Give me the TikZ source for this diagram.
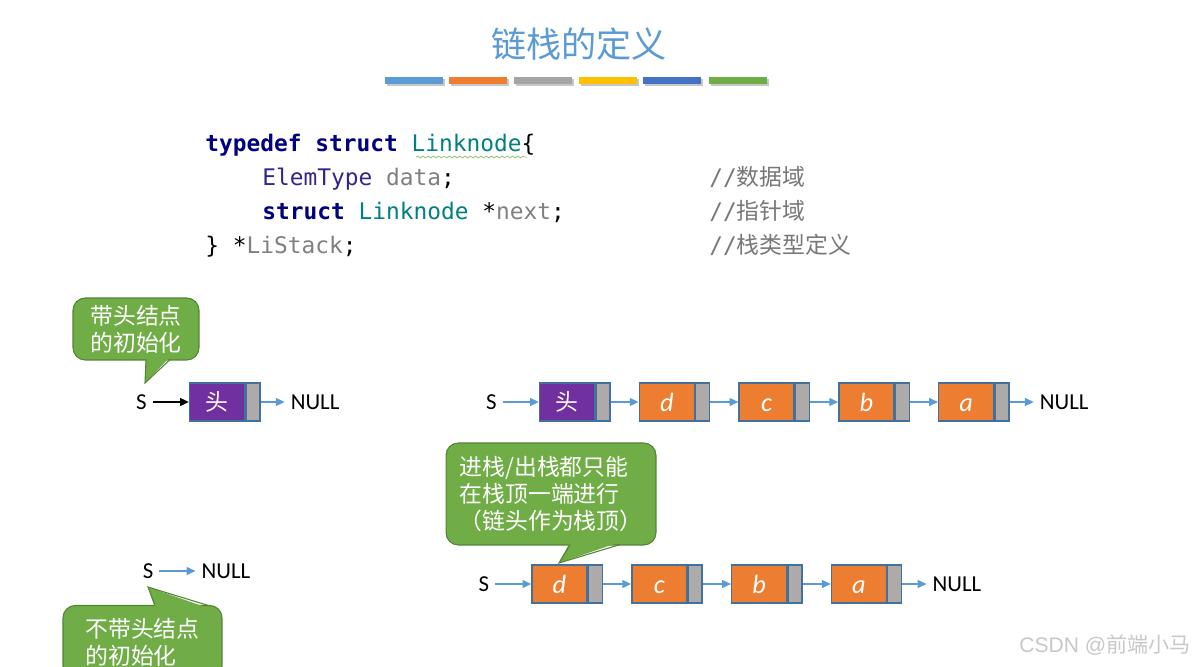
\documentclass[tikz,border=0pt]{standalone}
\usepackage{fontspec}
\setmainfont{Carlito}
\setmonofont{DejaVu Sans Mono}
\newfontfamily\cjk{Noto Sans CJK SC}
\newfontfamily\wmfont{Liberation Sans}
\usetikzlibrary{arrows.meta, positioning, decorations.pathmorphing}

\definecolor{titleblue}{RGB}{91,155,213}
\definecolor{barorange}{RGB}{237,125,49}
\definecolor{bargray}{RGB}{165,165,165}
\definecolor{baryellow}{RGB}{255,192,0}
\definecolor{bardblue}{RGB}{68,114,196}
\definecolor{bargreen}{RGB}{112,173,71}
\definecolor{headpurple}{RGB}{112,48,160}
\definecolor{elemorange}{RGB}{237,125,49}
\definecolor{ptrgray}{RGB}{174,170,170}
\definecolor{cellborder}{RGB}{65,113,156}
\definecolor{linkblue}{RGB}{91,155,213}
\definecolor{kwnavy}{RGB}{0,0,128}
\definecolor{typeteal}{RGB}{0,128,128}
\definecolor{typepurple}{RGB}{55,35,140}
\definecolor{idgray}{RGB}{128,128,128}
\definecolor{cmtgray}{RGB}{120,120,120}
\definecolor{wmgray}{RGB}{200,200,200}
\definecolor{notegreen}{RGB}{112,173,71}
\definecolor{noteborder}{RGB}{84,130,53}

\newcommand{\codefont}{\ttfamily\fontsize{13pt}{16pt}\selectfont}
\newcommand{\lblfont}{\fontsize{13pt}{16pt}\selectfont}
\newcommand{\notefont}{\cjk\fontsize{13pt}{15.5pt}\selectfont}

\begin{document}
\begin{tikzpicture}[
    x=0.02cm, y=-0.02cm,
    title/.style={font=\cjk\fontsize{20pt}{24pt}\selectfont, text=titleblue},
    code/.style={anchor=base west, inner sep=0pt, font=\codefont},
    cellbase/.style={rectangle, draw=cellborder, line width=0.8pt, minimum height=0.76cm, inner sep=0pt, text=white},
    headcell/.style={cellbase, minimum width=1.1cm, fill=headpurple, font=\cjk\fontsize{13pt}{16pt}\selectfont},
    elemcell/.style={cellbase, minimum width=1.1cm, fill=elemorange, font=\fontsize{15pt}{18pt}\selectfont\itshape, text height=11pt, text depth=0pt},
    ptrcell/.style={cellbase, minimum width=0.28cm, fill=ptrgray},
    lbl/.style={font=\lblfont},
    link/.style={-{Triangle[length=5pt,width=4.5pt]}, draw=linkblue, line width=0.8pt},
    startarrow/.style={-{Triangle[length=5pt,width=4.5pt]}, line width=1pt},
    bubble/.style={rectangle, rounded corners=7pt, fill=notegreen, draw=noteborder, line width=0.6pt, text=white, align=left, font=\notefont, inner sep=0pt},
    tailfill/.style={fill=notegreen},
    tailedge/.style={draw=noteborder, line width=0.6pt, line join=miter},
    squiggle/.style={draw=bargreen!70, line width=0.5pt, decorate, decoration={snake, amplitude=0.5pt, segment length=3pt}}
]

% Page
\fill[white] (0,0) rectangle (1196,666);
\useasboundingbox (0,0) rectangle (1196,666);

% Title and colour bars
\node[title] (title) at (579,44) {链栈的定义};
\foreach \bx/\bc in {385/titleblue, 449/barorange, 514/bargray, 579/baryellow, 643/bardblue, 709/bargreen} {
  \fill[black!22] (\bx+1.5,78.5) rectangle ++(58,7);
  \fill[\bc] (\bx,77) rectangle ++(58,7);
}

% Code
\node[code] (code1) at (205,151) {\textcolor{kwnavy}{\bfseries typedef struct} \textcolor{typeteal}{Linknode}\{};
\node[code] (code2) at (262,185) {\textcolor{typepurple}{ElemType} \textcolor{idgray}{data};};
\node[code] (code3) at (262,219) {\textcolor{kwnavy}{\bfseries struct} \textcolor{typeteal}{Linknode} *\textcolor{idgray}{next};};
\node[code] (code4) at (205,253) {\} *\textcolor{idgray}{LiStack};};
\node[code, text=cmtgray] (cmt2) at (709,185) {//{\cjk 数据域}};
\node[code, text=cmtgray] (cmt3) at (709,219) {//{\cjk 指针域}};
\node[code, text=cmtgray] (cmt4) at (709,253) {//{\cjk 栈类型定义}};
\draw[squiggle] (416,157) -- (527,157);

% With head node, empty
\node[headcell] (hd0) at (217,402) {头};
\node[ptrcell, right=0pt of hd0] (p0) {};
\node[lbl, left=0.72cm of hd0] (s0) {S};
\node[lbl, right=0.48cm of p0] (null0) {NULL};
\draw[startarrow] (s0) -- (hd0);
\draw[link] (p0) -- (null0);

% With head node, d c b a
\node[headcell] (hd1) at (567,402) {头};
\node[ptrcell, right=0pt of hd1] (p1) {};
\node[elemcell, right=0.56cm of p1] (d1) {d};
\node[ptrcell, right=0pt of d1] (pd1) {};
\node[elemcell, right=0.56cm of pd1] (c1) {c};
\node[ptrcell, right=0pt of c1] (pc1) {};
\node[elemcell, right=0.56cm of pc1] (b1) {b};
\node[ptrcell, right=0pt of b1] (pb1) {};
\node[elemcell, right=0.56cm of pb1] (a1) {a};
\node[ptrcell, right=0pt of a1] (pa1) {};
\node[lbl, left=0.72cm of hd1] (s1) {S};
\node[lbl, right=0.48cm of pa1] (null1) {NULL};
\draw[link] (s1) -- (hd1);
\draw[link] (p1) -- (d1);
\draw[link] (pd1) -- (c1);
\draw[link] (pc1) -- (b1);
\draw[link] (pb1) -- (a1);
\draw[link] (pa1) -- (null1);

% Without head node, d c b a
\node[elemcell] (d2) at (559.5,584) {d};
\node[ptrcell, right=0pt of d2] (pd2) {};
\node[elemcell, right=0.56cm of pd2] (c2) {c};
\node[ptrcell, right=0pt of c2] (pc2) {};
\node[elemcell, right=0.56cm of pc2] (b2) {b};
\node[ptrcell, right=0pt of b2] (pb2) {};
\node[elemcell, right=0.56cm of pb2] (a2) {a};
\node[ptrcell, right=0pt of a2] (pa2) {};
\node[lbl, left=0.72cm of d2] (s2) {S};
\node[lbl, right=0.48cm of pa2] (null2) {NULL};
\draw[link] (s2) -- (d2);
\draw[link] (pd2) -- (c2);
\draw[link] (pc2) -- (b2);
\draw[link] (pb2) -- (a2);
\draw[link] (pa2) -- (null2);

% Without head node, empty
\node[lbl] (s3) at (148,571) {S};
\node[lbl, right=0.72cm of s3] (null3) {NULL};
\draw[link] (s3) -- (null3);

% Notes
\node[bubble, minimum width=2.52cm, minimum height=1.24cm] (note1) at (136,329) {带头结点\\的初始化};
\node[bubble, minimum width=4.2cm, minimum height=2.04cm] (note2) at (551,494) {进栈/出栈都只能\\在栈顶一端进行\\（链头作为栈顶）};
\node[bubble, minimum width=3.18cm, minimum height=1.46cm] (note3) at (142.5,642) {不带头结点\\的初始化};

% Note tails
\coordinate (tip1) at (145,383);
\coordinate (tip2) at (559,563);
\coordinate (tip3) at (148,587);
\fill[tailfill] (146,357) -- (tip1) -- (170,357) -- cycle;
\draw[tailedge] (146,359.6) -- (tip1) -- (170,359.6);
\fill[tailfill] (570,542) -- (tip2) -- (620,542) -- cycle;
\draw[tailedge] (570,544.6) -- (tip2) -- (620,544.6);
\fill[tailfill] (155,608) -- (tip3) -- (208,608) -- cycle;
\draw[tailedge] (155,605.4) -- (tip3) -- (208,605.4);

% Watermark
\node[font=\wmfont\fontsize{12pt}{14pt}\selectfont, text=wmgray] (mark) at (1105,645) {CSDN @{\cjk 前端小马}};

\end{tikzpicture}
\end{document}
